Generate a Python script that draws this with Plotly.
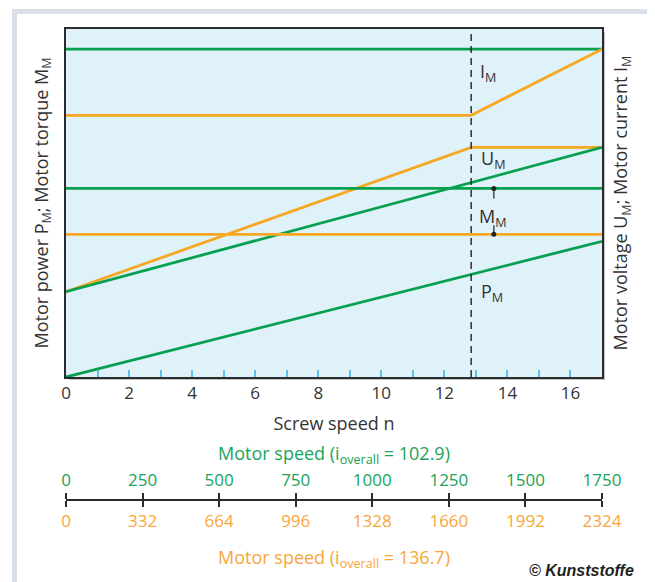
import plotly.graph_objects as go

# ---- data (y in relative units 0..100) ----
screw_speed_range = [0, 17]
x_ticks_screw = [0, 2, 4, 6, 8, 10, 12, 14, 16]
base_speed = 12.85          # screw speed at the dashed line

pm_x = [0, 17]
pm_y = [0, 39.0]            # P_M (green)

um_green_x = [0, 17]
um_green_y = [24.5, 66.0]   # U_M, i = 102.9

um_orange_x = [0, base_speed, 17]
um_orange_y = [24.5, 66.0, 66.0]   # U_M, i = 136.7

im_green_x = [0, 17]
im_green_y = [94.2, 94.2]   # I_M, i = 102.9

im_orange_x = [0, base_speed, 17]
im_orange_y = [75.2, 75.2, 94.2]   # I_M, i = 136.7

mm_green_x = [0, 17]
mm_green_y = [54.2, 54.2]   # M_M, i = 102.9

mm_orange_x = [0, 17]
mm_orange_y = [41.0, 41.0]  # M_M, i = 136.7

marker_x = 13.57
marker_top = [54.2, 51.3]
marker_bot = [41.0, 43.6]

motor_speed_green = [0, 250, 500, 750, 1000, 1250, 1500, 1750]
motor_speed_orange = [0, 332, 664, 996, 1328, 1660, 1992, 2324]

GREEN = "#06a04e"
ORANGE = "#f7a823"
TXT = "#333333"
FONT = "Open Sans"
FS = 17      # tick labels
FT = 18      # titles / labels

fig = go.Figure()

def line(x, y, color, xa="x", ya="y", width=2.8, dash=None):
    fig.add_trace(go.Scatter(x=x, y=y, mode="lines", xaxis=xa, yaxis=ya,
                             line=dict(color=color, width=width, dash=dash),
                             hoverinfo="skip", showlegend=False))

line(im_green_x, im_green_y, GREEN)
line(im_orange_x, im_orange_y, ORANGE)
line(um_orange_x, um_orange_y, ORANGE)
line(um_green_x, um_green_y, GREEN)
line(mm_green_x, mm_green_y, GREEN)
line(mm_orange_x, mm_orange_y, ORANGE)
line(pm_x, pm_y, GREEN)
line([base_speed, base_speed], [0, 100], "#222222", width=1.4, dash="7px,5px")

# dimension markers for M_M
for ys in (marker_top, marker_bot):
    fig.add_trace(go.Scatter(x=[marker_x, marker_x], y=ys, mode="lines",
                             line=dict(color="#222", width=1.2),
                             hoverinfo="skip", showlegend=False))
    fig.add_trace(go.Scatter(x=[marker_x], y=[ys[0]], mode="markers",
                             marker=dict(color="#222", size=5),
                             hoverinfo="skip", showlegend=False))

# invisible traces so secondary axes exist
fig.add_trace(go.Scatter(x=[0], y=[0], xaxis="x2", yaxis="y", mode="markers",
                         marker=dict(opacity=0), hoverinfo="skip", showlegend=False))
fig.add_trace(go.Scatter(x=[0], y=[0], xaxis="x3", yaxis="y", mode="markers",
                         marker=dict(opacity=0), hoverinfo="skip", showlegend=False))
fig.add_trace(go.Scatter(x=[0], y=[0], xaxis="x", yaxis="y2", mode="markers",
                         marker=dict(opacity=0), hoverinfo="skip", showlegend=False))

# page has an 8px body margin: figure occupies screen 8..655 x 8..582
OFF = 8
W, H = 655 - OFF, 582 - OFF
ml, mr, mt, mb = 66 - OFF, 53, 29 - OFF, 82
pw = W - ml - mr
ph = H - mt - mb
plot_bottom_px = 377
paper_bottom_px = H - mb + OFF   # screen px
d0 = (paper_bottom_px - plot_bottom_px) / ph

def px2x(px):   # screen px -> paper x
    return (px - 66) / pw

def py2y(py):   # screen px -> paper y
    return (paper_bottom_px - py) / ph

shapes = [
    dict(type="rect", xref="paper", yref="paper", x0=px2x(12), x1=px2x(700),
         y0=py2y(9), y1=py2y(700), fillcolor="#d9e0e8", line=dict(width=0), layer="below"),
    dict(type="rect", xref="paper", yref="paper", x0=px2x(17), x1=px2x(649),
         y0=py2y(14), y1=py2y(700), fillcolor="#ffffff", line=dict(width=0), layer="below"),
    dict(type="rect", xref="paper", yref="paper", x0=px2x(69), x1=px2x(605),
         y0=py2y(380), y1=py2y(32), fillcolor="#9a9a9a", line=dict(width=0), layer="below",
         opacity=0.6),
    dict(type="rect", xref="paper", yref="paper", x0=0, x1=1, y0=d0, y1=1,
         fillcolor="#dff1f9", line=dict(width=0), layer="below"),
]

ann = []
def label(txt, x, y):
    ann.append(dict(text=txt, x=x, y=y, xref="x", yref="y", showarrow=False,
                    xanchor="left", yanchor="middle",
                    font=dict(family=FONT, size=FT, color=TXT)))

label("I<sub>M</sub>", 13.08, 87.6)
label("U<sub>M</sub>", 13.1, 62.6)
label("M<sub>M</sub>", 13.05, 45.9)
label("P<sub>M</sub>", 13.1, 24.4)

ann.append(dict(text="<b><i>© Kunststoffe</i></b>", xref="paper", yref="paper",
                x=px2x(636), y=py2y(570), xanchor="right", yanchor="middle",
                showarrow=False,
                font=dict(family="Liberation Sans Narrow, Liberation Sans", size=16, color="#222")))

fig.update_layout(
    width=W, height=H,
    margin=dict(l=ml, r=mr, t=mt, b=mb, autoexpand=False),
    paper_bgcolor="#ffffff",
    plot_bgcolor="rgba(0,0,0,0)",
    font=dict(family=FONT, size=FS, color=TXT),
    showlegend=False,
    shapes=shapes,
    annotations=ann,
    xaxis=dict(
        range=screw_speed_range, anchor="y", domain=[0, 1], automargin=False,
        tickvals=x_ticks_screw, ticks="inside", ticklen=7, tickwidth=1.5,
        tickcolor="#5bc0eb",
        minor=dict(dtick=1, tick0=0, ticks="inside", ticklen=7, tickwidth=1.5,
                   tickcolor="#5bc0eb", showgrid=False),
        showgrid=False, zeroline=False,
        showline=True, mirror=True, linewidth=2, linecolor="#2b2b2b",
        tickfont=dict(family=FONT, size=FS, color=TXT),
        title=dict(text="Screw speed n", font=dict(family=FONT, size=FT, color=TXT),
                   standoff=14),
    ),
    yaxis=dict(
        range=[0, 100], domain=[d0, 1], anchor="x", automargin=False,
        showticklabels=False, ticks="", showgrid=False, zeroline=False,
        showline=True, mirror=True, linewidth=2, linecolor="#2b2b2b",
        title=dict(text="Motor power P<sub>M</sub>; Motor torque M<sub>M</sub>",
                   font=dict(family=FONT, size=FT, color=TXT), standoff=11),
    ),
    yaxis2=dict(
        range=[0, 100], overlaying="y", side="right", anchor="x", automargin=False,
        showticklabels=False, ticks="", showgrid=False, zeroline=False, showline=False,
        title=dict(text="Motor voltage U<sub>M</sub>; Motor current I<sub>M</sub>",
                   font=dict(family=FONT, size=FT, color=TXT), standoff=12),
    ),
    xaxis2=dict(
        range=[0, motor_speed_green[-1]], overlaying="x", anchor="free", position=0,
        side="top", tickvals=motor_speed_green, automargin=False,
        ticks="outside", ticklen=6, tickwidth=2, tickcolor="#2b2b2b",
        showline=True, linewidth=2, linecolor="#2b2b2b",
        showgrid=False, zeroline=False,
        tickfont=dict(family=FONT, size=FS, color="#1aa358"),
        title=dict(text="Motor speed (i<sub>overall</sub> = 102.9)",
                   font=dict(family=FONT, size=FT, color="#1aa358"), standoff=1),
    ),
    xaxis3=dict(
        range=[0, motor_speed_orange[-1]], overlaying="x", anchor="free", position=0,
        side="bottom", tickvals=motor_speed_orange, automargin=False,
        ticks="outside", ticklen=6, tickwidth=2, tickcolor="#2b2b2b",
        showline=True, linewidth=2, linecolor="#2b2b2b",
        showgrid=False, zeroline=False,
        tickfont=dict(family=FONT, size=FS, color="#f8a63a"),
        title=dict(text="Motor speed (i<sub>overall</sub> = 136.7)",
                   font=dict(family=FONT, size=FT, color="#f8a63a"), standoff=19),
    ),
)

fig.write_html("out.html")
